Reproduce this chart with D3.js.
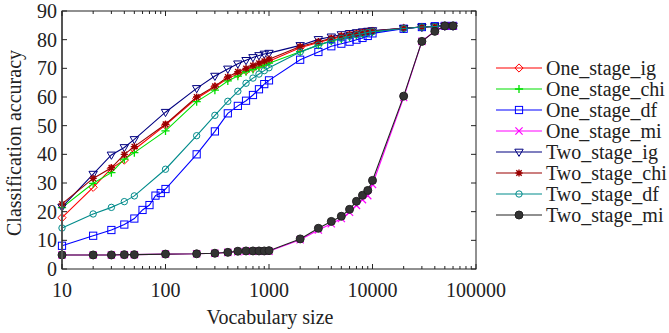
<!DOCTYPE html>
<html>
<head>
<meta charset="utf-8">
<script src="https://cdn.jsdelivr.net/npm/d3@7"></script>
<style>
  body { margin: 0; background: #fff; }
  svg text { font-family: "Liberation Serif", "Times New Roman", serif; fill: #222; }
</style>
</head>
<body>
<div id="chart"></div>
<script>
// Data
const xCommon = [10, 20, 30, 40, 50, 100, 200, 300, 400, 500, 600, 700, 800, 900, 1000,
  2000, 3000, 4000, 5000, 6000, 7000, 8000, 9000, 10000, 20000, 30000, 40000, 50000, 60000];
const xDf = [10, 20, 30, 40, 50, 60, 70, 80, 90, 100, 200, 300, 400, 500, 600, 700, 800, 900, 1000,
  2000, 3000, 4000, 5000, 6000, 7000, 8000, 9000, 10000, 20000, 30000, 40000, 50000, 60000];

const oneStageIg = [17.9, 28.5, 35.1, 38, 41.7, 50.2, 59.5, 63.5, 66.5, 68, 69.2, 70, 71, 71.8, 72.5,
  77.2, 79, 80.2, 81, 81.6, 82, 82.4, 82.7, 83, 84, 84.4, 84.6, 84.8, 84.8];
const oneStageChi = [21.4, 29.9, 33.6, 38.3, 40.6, 48.2, 58.4, 62.4, 65.6, 67.3, 68.8, 69.6, 70.4, 71.1, 71.8,
  75.8, 78.1, 79.5, 80.3, 80.9, 81.4, 81.8, 82.2, 82.6, 83.9, 84.4, 84.6, 84.8, 84.8];
const oneStageDf = [8.1, 11.6, 13.6, 15.5, 17.6, 20.6, 22.3, 25.6, 26.5, 27.9, 40, 48, 54.3, 56.9, 58.7, 60.7, 62.7, 64.5, 65.8,
  73, 75.7, 77.7, 78.6, 79.3, 80, 80.6, 81.3, 82.2, 83.8, 84.4, 84.7, 84.8, 84.8];
const oneStageMi = [4.9, 4.9, 4.9, 5.0, 5.0, 5.2, 5.3, 5.5, 5.8, 6.0, 6.2, 6.2, 6.2, 6.2, 6.2,
  10.2, 13.6, 15.8, 17.6, 19.8, 22.2, 24.2, 25.6, 29.5, 59.8, 79.4, 83.0, 84.8, 84.8];
const twoStageIg = [21.6, 33.1, 39.8, 42.4, 45.2, 54.7, 63, 67.3, 69.8, 71.6, 72.8, 73.8, 74.5, 75, 75.3,
  78, 80.1, 81, 81.8, 82.2, 82.5, 82.8, 83, 83.2, 84, 84.4, 84.6, 84.8, 84.8];
const twoStageChi = [22.7, 31.6, 35.3, 40, 42.7, 50.5, 60, 63.8, 67, 68.8, 70, 71, 71.8, 72.5, 73.2,
  77.6, 79.3, 80.5, 81.3, 81.8, 82.2, 82.5, 82.8, 83, 84, 84.4, 84.6, 84.8, 84.8];
const twoStageDf = [14.3, 19.2, 21.5, 23.5, 25.5, 34.8, 46.5, 53.6, 58.5, 62, 64.8, 66.6, 68, 69.2, 70.2,
  75.7, 78.1, 79.6, 80.5, 81.2, 81.7, 82.1, 82.5, 82.8, 83.9, 84.4, 84.6, 84.8, 84.8];
const twoStageMi = [4.9, 4.9, 4.9, 5.0, 5.0, 5.2, 5.3, 5.5, 5.8, 6.2, 6.3, 6.3, 6.3, 6.3, 6.4,
  10.5, 14.2, 16.6, 18.4, 20.8, 23.6, 25.7, 27.4, 30.9, 60.3, 79.4, 82.9, 84.8, 84.8];

const seriesNames = ["One_stage_ig", "One_stage_chi", "One_stage_df", "One_stage_mi",
  "Two_stage_ig", "Two_stage_chi", "Two_stage_df", "Two_stage_mi"];
const xTickValues = [10, 100, 1000, 10000, 100000];
const yTickValues = [0, 10, 20, 30, 40, 50, 60, 70, 80, 90];

const series = [
  {name: seriesNames[0], xs: xCommon, ys: oneStageIg,  color: "#ff0000", marker: "diamond"},
  {name: seriesNames[1], xs: xCommon, ys: oneStageChi, color: "#00e000", marker: "plus"},
  {name: seriesNames[2], xs: xDf,     ys: oneStageDf,  color: "#0000ff", marker: "square"},
  {name: seriesNames[3], xs: xCommon, ys: oneStageMi,  color: "#ff00ff", marker: "cross"},
  {name: seriesNames[4], xs: xCommon, ys: twoStageIg,  color: "#000080", marker: "triangle"},
  {name: seriesNames[5], xs: xCommon, ys: twoStageChi, color: "#990000", marker: "star"},
  {name: seriesNames[6], xs: xCommon, ys: twoStageDf,  color: "#008b8b", marker: "circle"},
  {name: seriesNames[7], xs: xCommon, ys: twoStageMi,  color: "#222222", marker: "dot"}
];

// Layout
const width = 669, height = 333;
const plot = {left: 62, right: 476, top: 11, bottom: 269};

const svg = d3.select("#chart").append("svg")
  .attr("width", width)
  .attr("height", height);

const x = d3.scaleLog().domain([10, 100000]).range([plot.left, plot.right]);
const y = d3.scaleLinear().domain([0, 90]).range([plot.bottom, plot.top]);

// Marker drawing
const drawMarker = (g, type, color) => {
  const s = 3.6;
  if (type === "diamond") {
    g.append("path").attr("d", `M0,${-s - 0.5}L${s + 0.5},0L0,${s + 0.5}L${-s - 0.5},0Z`)
      .attr("fill", "none").attr("stroke", color);
  } else if (type === "plus") {
    g.append("path").attr("d", `M${-s - 0.5},0H${s + 0.5}M0,${-s - 0.5}V${s + 0.5}`)
      .attr("stroke", color).attr("stroke-width", 1.3);
  } else if (type === "square") {
    g.append("rect").attr("x", -s).attr("y", -s).attr("width", 2 * s).attr("height", 2 * s)
      .attr("fill", "none").attr("stroke", color);
  } else if (type === "cross") {
    g.append("path").attr("d", `M${-s},${-s}L${s},${s}M${-s},${s}L${s},${-s}`)
      .attr("stroke", color).attr("stroke-width", 1.2);
  } else if (type === "triangle") {
    g.append("path").attr("d", `M${-s - 0.6},${-s + 0.8}H${s + 0.6}L0,${s + 0.8}Z`)
      .attr("fill", "none").attr("stroke", color);
  } else if (type === "star") {
    g.append("path")
      .attr("d", `M${-s},0H${s}M0,${-s}V${s}M${-s * 0.75},${-s * 0.75}L${s * 0.75},${s * 0.75}M${-s * 0.75},${s * 0.75}L${s * 0.75},${-s * 0.75}`)
      .attr("stroke", color).attr("stroke-width", 1.4);
  } else if (type === "circle") {
    g.append("circle").attr("r", s - 0.4).attr("fill", "none").attr("stroke", color);
  } else if (type === "dot") {
    g.append("circle").attr("r", 4).attr("fill", "#333").attr("stroke", "#222");
  }
};

// Series lines and markers
const line = d3.line()
  .x(d => x(d[0]))
  .y(d => y(d[1]));

series.forEach(s => {
  const pts = s.xs.map((v, i) => [v, s.ys[i]]);
  const g = svg.append("g");
  g.append("path")
    .datum(pts)
    .attr("fill", "none")
    .attr("stroke", s.color)
    .attr("stroke-width", 1.1)
    .attr("d", line);
  g.selectAll("g.m")
    .data(pts)
    .join("g")
    .attr("class", "m")
    .attr("transform", d => `translate(${x(d[0])},${y(d[1])})`)
    .each(function() { drawMarker(d3.select(this), s.marker, s.color); });
});

// Frame
svg.append("rect")
  .attr("x", plot.left).attr("y", plot.top)
  .attr("width", plot.right - plot.left).attr("height", plot.bottom - plot.top)
  .attr("fill", "none").attr("stroke", "#222").attr("stroke-width", 1);
svg.append("line")
  .attr("x1", plot.left).attr("x2", plot.left)
  .attr("y1", plot.top).attr("y2", plot.bottom)
  .attr("stroke", "#555").attr("stroke-width", 2);

// Ticks: inward, mirrored on top and right
const minorX = [];
for (let d = 10; d < 100000; d *= 10) {
  for (let k = 2; k <= 9; k++) minorX.push(d * k);
}
const ticks = svg.append("g").attr("stroke", "#222").attr("stroke-width", 1);
xTickValues.forEach(v => {
  ticks.append("line").attr("x1", x(v)).attr("x2", x(v)).attr("y1", plot.bottom).attr("y2", plot.bottom - 5);
  ticks.append("line").attr("x1", x(v)).attr("x2", x(v)).attr("y1", plot.top).attr("y2", plot.top + 5);
});
minorX.forEach(v => {
  ticks.append("line").attr("x1", x(v)).attr("x2", x(v)).attr("y1", plot.bottom).attr("y2", plot.bottom - 3);
  ticks.append("line").attr("x1", x(v)).attr("x2", x(v)).attr("y1", plot.top).attr("y2", plot.top + 3);
});
yTickValues.forEach(v => {
  ticks.append("line").attr("x1", plot.left).attr("x2", plot.left + 5).attr("y1", y(v)).attr("y2", y(v));
  ticks.append("line").attr("x1", plot.right).attr("x2", plot.right - 5).attr("y1", y(v)).attr("y2", y(v));
});

// Tick labels
svg.append("g")
  .selectAll("text")
  .data(xTickValues)
  .join("text")
  .attr("x", d => x(d))
  .attr("y", 297)
  .attr("text-anchor", "middle")
  .attr("font-size", 20)
  .text(d => d3.format("d")(d));

svg.append("g")
  .selectAll("text")
  .data(yTickValues)
  .join("text")
  .attr("x", 57)
  .attr("y", d => y(d) + 7)
  .attr("text-anchor", "end")
  .attr("font-size", 20)
  .text(d => d);

// Axis titles
svg.append("text")
  .attr("x", 270)
  .attr("y", 324)
  .attr("text-anchor", "middle")
  .attr("font-size", 20)
  .text("Vocabulary size");

svg.append("text")
  .attr("transform", "translate(21,143) rotate(-90)")
  .attr("text-anchor", "middle")
  .attr("font-size", 20)
  .text("Classification accuracy");

// Legend
const legend = svg.append("g");
series.forEach((s, i) => {
  const ly = 68 + i * 21;
  const g = legend.append("g").attr("transform", `translate(0,${ly})`);
  g.append("line").attr("x1", 496).attr("x2", 542).attr("y1", 0).attr("y2", 0)
    .attr("stroke", s.color).attr("stroke-width", 1.1);
  drawMarker(g.append("g").attr("transform", "translate(519,0)"), s.marker, s.color);
  g.append("text")
    .attr("x", 546)
    .attr("y", 7)
    .attr("font-size", 20)
    .text(s.name);
});
</script>
</body>
</html>
